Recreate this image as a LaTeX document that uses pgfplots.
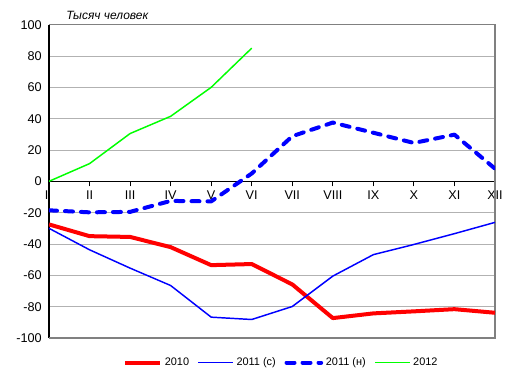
\documentclass[border=0pt]{standalone}
\usepackage{fontspec}
\setmainfont{Liberation Sans}
\usepackage{pgfplots}
\pgfplotsset{compat=1.18}
\begin{document}
\begin{tikzpicture}
\useasboundingbox (-36.75pt,-34.5pt) rectangle (349.5pt,253.5pt);
\begin{axis}[
  at={(0,0)}, anchor=south west,
  scale only axis, width=334.5pt, height=235pt,
  xmin=0, xmax=11, ymin=-100, ymax=100,
  clip mode=individual,
  axis x line=middle, axis y line=left,
  axis line style={-, black, line width=0.8pt},
  hide obscured x ticks=false,
  xtick={0,...,11},
  xticklabels={\kern-3.5pt I,II,III,IV,V,VI,VII,VIII,IX,X,XI,XII},
  ytick={-100,-80,...,100},
  yticklabels={-100,-80,-60,-40,-20,0,20,40,60,80,100},
  xtick style={black, line width=0.8pt},
  xtick align=outside,
  major tick length=3.75pt,
  ytick style={draw=none},
  tick label style={font=\fontsize{9.5}{11}\selectfont},
  ymajorgrids,
  major grid style={color=black!30, line width=0.6pt},
  legend columns=4,
  legend style={at={(0.522,-0.045)}, anchor=north, draw=none,
    font=\fontsize{8.2}{11}\selectfont,
    /tikz/every even column/.append style={column sep=4.5pt}},
  legend image code/.code={\draw[#1] (0pt,0pt) -- (26pt,0pt);},
  every axis plot/.append style={line join=round},
]
\draw[black!50, line width=0.8pt] (rel axis cs:0,1) -- (rel axis cs:1,1) -- (rel axis cs:1,0) -- (rel axis cs:0,0);
\addplot[red, line width=3pt] coordinates {
 (0,-27.5) (1,-35) (2,-35.5) (3,-42) (4,-53.5) (5,-52.8) (6,-65.8) (7,-87.3) (8,-84.3) (9,-83) (10,-81.6) (11,-83.9)};
\addlegendentry{2010}
\addplot[blue, line width=1.1pt] coordinates {
 (0,-30) (1,-43.7) (2,-55.4) (3,-66.5) (4,-86.7) (5,-88.2) (6,-79.9) (7,-60.5) (8,-46.8) (9,-40.3) (10,-33.4) (11,-26.2)};
\addlegendentry{2011 (с)}
\addplot[blue, line width=3pt, line cap=round, dash pattern=on 6pt off 6pt] coordinates {
 (0,-18.5) (1,-19.8) (2,-19.5) (3,-12.5) (4,-12.8) (5,5) (6,28.8) (7,37.5) (8,31) (9,24.5) (10,29.8) (11,8.1)};
\addlegendentry{2011 (н)}
\addplot[green, line width=1.1pt] coordinates {
 (0,0) (1,11.3) (2,30.5) (3,41.5) (4,60) (5,85)};
\addlegendentry{2012}
\node[anchor=west, font=\itshape\fontsize{9}{10}\selectfont, inner sep=0pt] at ([xshift=12.75pt,yshift=7pt]rel axis cs:0,1) {Тысяч человек};
\end{axis}
\end{tikzpicture}
\end{document}
